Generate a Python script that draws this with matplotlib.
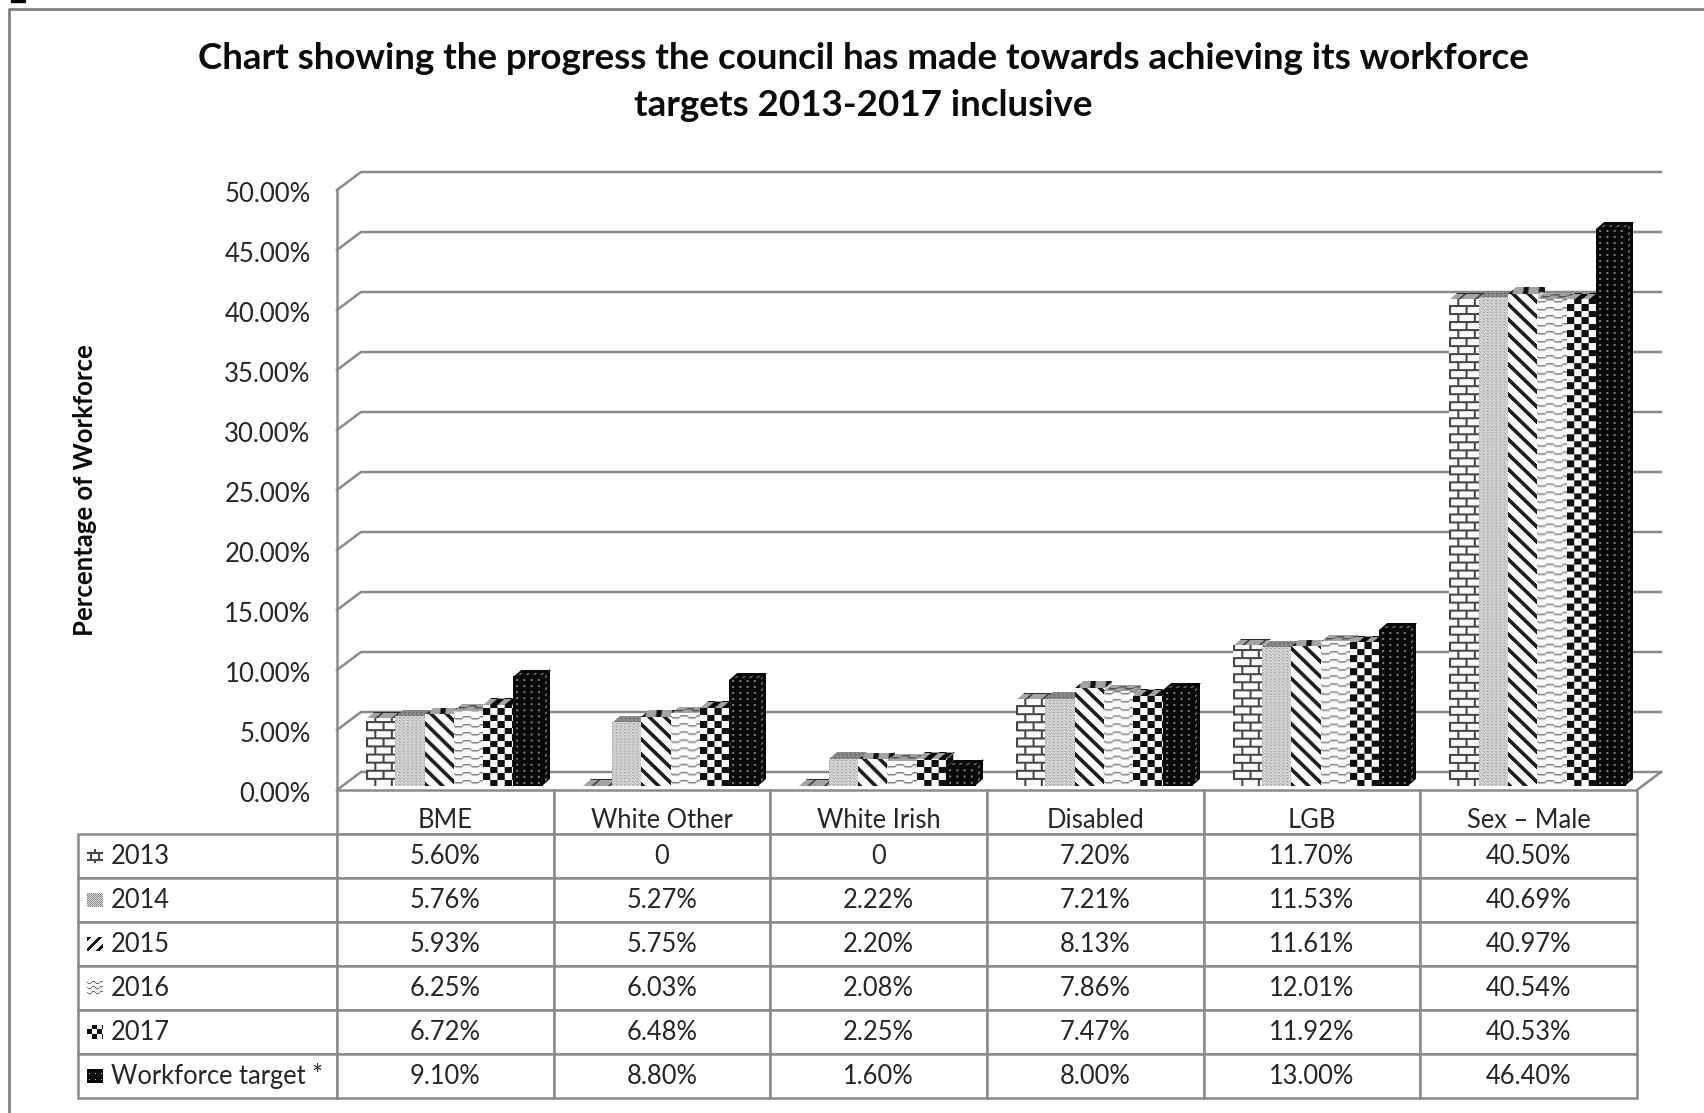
import numpy as np
import matplotlib
matplotlib.use('Agg')
import matplotlib.pyplot as plt
from matplotlib.patches import Rectangle
from matplotlib.table import Table
from matplotlib.transforms import Affine2D, ScaledTranslation

categories = ['BME', 'White Other', 'White Irish', 'Disabled', 'LGB', 'Sex – Male']
years = ['2013', '2014', '2015', '2016', '2017', 'Workforce target *']
v2013 = [5.60, 0, 0, 7.20, 11.70, 40.50]
v2014 = [5.76, 5.27, 2.22, 7.21, 11.53, 40.69]
v2015 = [5.93, 5.75, 2.20, 8.13, 11.61, 40.97]
v2016 = [6.25, 6.03, 2.08, 7.86, 12.01, 40.54]
v2017 = [6.72, 6.48, 2.25, 7.47, 11.92, 40.53]
target = [9.10, 8.80, 1.60, 8.00, 13.00, 46.40]
series = [v2013, v2014, v2015, v2016, v2017, target]
yticks = [0, 5, 10, 15, 20, 25, 30, 35, 40, 45, 50]

W, H = 1704, 1113
GRID = '#8a8a8a'
TXT = '#262626'
plt.rcParams['font.family'] = ['Lato', 'DejaVu Sans']

fig = plt.figure(figsize=(W / 100, H / 100), dpi=100)
# front plane of the 3d box, in pixels of the picture
L, R, TOP, BOT = 337, 1637, 190, 790
ax = fig.add_axes([L / W, 1 - BOT / H, (R - L) / W, (BOT - TOP) / H])
ax.set_xlim(0, 6)
ax.set_ylim(0, 50)
ax.set_autoscale_on(False)
sx = (R - L) / 6
sy = (BOT - TOP) / 50
DX, DY = 24 / sx, 18 / sy      # depth of the box
bar_dx, bar_dy = 8 / sx, 7 / sy  # depth of a bar
bar_w = 29.3 / sx
start = 29 / sx
base = 4 / sy


# fill patterns, one tile each, grey values 0-255
def brick():
    t = np.full((16, 16), 250.0)
    t[0:2, :] = 70
    t[8:10, :] = 70
    t[0:8, 0:2] = 70
    t[8:16, 8:10] = 70
    return t


def fine():
    return np.array([[205, 235, 170, 220], [150, 205, 215, 190], [215, 170, 235, 205]], float)


def diagonal():
    yy, xx = np.mgrid[0:15, 0:15]
    return np.where((xx - yy) % 15 < 5, 30.0, 250.0)


def wave():
    t = np.full((8, 16), 250.0)
    for x in range(16):
        r = int(round(3 + 1.5 * np.sin(2 * np.pi * x / 16)))
        t[r, x] = 130
        t[r + 1, x] = 190
    return t


def checker():
    yy, xx = np.mgrid[0:13, 0:14]
    return np.where(((xx // 7) + (yy * 2 // 13)) % 2 == 0, 15.0, 250.0)


def dark():
    t = np.full((12, 14), 8.0)
    t[2:4, 3:5] = 120
    t[8:10, 3:5] = 120
    t[2:4, 10:12] = 120
    t[8:10, 10:12] = 120
    return t


tiles = [brick(), fine(), diagonal(), wave(), checker(), dark()]


# the legend keys use a much smaller version of each pattern
def key_brick():
    t = np.full((14, 16), 250.0)
    t[3:5, :] = 70
    t[10:12, :] = 70
    t[5:10, 3:5] = 70
    t[5:10, 11:13] = 70
    t[0:3, 7:9] = 70
    t[12:14, 7:9] = 70
    return t


def key_fine():
    yy, xx = np.mgrid[0:14, 0:16]
    return np.where((xx + yy) % 2 == 0, 130.0, 225.0)


def key_diag():
    yy, xx = np.mgrid[0:14, 0:16]
    return np.where((xx + yy) % 11 < 4, 25.0, 250.0)


def key_wave():
    t = np.full((5, 8), 250.0)
    for x in range(8):
        t[int(round(2 + np.sin(2 * np.pi * x / 8))), x] = 110
    return t


def key_checker():
    yy, xx = np.mgrid[0:10, 0:10]
    return np.where(((xx // 5) + (yy // 5)) % 2 == 0, 10.0, 245.0)


def key_dark():
    t = np.full((6, 6), 10.0)
    t[2:3, 2:3] = 190
    return t


key_tiles = [key_brick(), key_fine(), key_diag(), key_wave(), key_checker(), key_dark()]


def texture(tile, w_px, h_px):
    w_px, h_px = max(int(round(w_px)), 1), max(int(round(h_px)), 1)
    ny = h_px // tile.shape[0] + 1
    nx = w_px // tile.shape[1] + 1
    return np.tile(tile, (ny, nx))[-h_px:, :w_px]


def face(tile, x, y, ux, uy, vx, vy, w_px, h_px, trans, zorder):
    # image mapped on the parallelogram (x,y) + s*(ux,uy) + t*(vx,vy)
    arr = texture(tile, w_px, h_px)
    im = ax.imshow(arr, extent=(0, 1, 0, 1), aspect='auto', cmap='gray', vmin=0, vmax=255,
                   interpolation='bilinear', zorder=zorder)
    im.set_transform(Affine2D.from_values(ux, uy, vx, vy, x, y) + trans)
    im.set_clip_on(False)
    return im


# box walls
ax.set_yticks(yticks)
ax.set_yticklabels(['%.2f%%' % v for v in yticks], fontsize=18.5, color=TXT)
ax.set_xticks([])
ax.tick_params(axis='y', length=0, pad=19)
for lbl in ax.get_yticklabels():
    lbl.set_transform(lbl.get_transform() + ScaledTranslation(0, -0.02, fig.dpi_scale_trans))
for s in ['top', 'right', 'bottom']:
    ax.spines[s].set_visible(False)
ax.spines['left'].set_color(GRID)
ax.spines['left'].set_linewidth(1.8)
ax.patch.set_visible(False)
for v in yticks:
    ax.plot([0, DX, 6 + DX], [v, v + DY, v + DY], color=GRID, lw=1.8, clip_on=False, zorder=1,
            solid_joinstyle='miter')
ax.plot([6, 6 + DX], [0, DY], color=GRID, lw=1.8, clip_on=False, zorder=1)

# bars, left to right so each one covers the side of the one before
z = 3
for i, vals in enumerate(series):
    x = np.arange(6) + start + i * bar_w
    bars = ax.bar(x, vals, bar_w, bottom=base, align='edge', facecolor='none', edgecolor='none', zorder=2)
    for b in bars:
        x0, y0, w, h = b.get_x(), b.get_y(), b.get_width(), b.get_height()
        depth_top = tiles[i] * 0.65 if i < 5 else tiles[i]
        side = tiles[i] * 0.8 if i < 5 else tiles[i]
        if h > 0:
            face(side, x0 + w, y0, bar_dx, bar_dy, 0, h, 8, h * sy, ax.transData, z)
        face(depth_top, x0, y0 + h, w, 0, bar_dx, bar_dy, w * sx, 7, ax.transData, z)
        if h > 0:
            face(tiles[i], x0, y0, w, 0, 0, h, w * sx, h * sy, ax.transData, z + 0.1)
    z += 1

# data table under the chart
left_w = (L - 78) / (R - L)
col_w = 1 / 6
n = len(years) + 1
row_h = 308 / (BOT - TOP) / n
tb = Table(ax, bbox=[-left_w, -308 / (BOT - TOP), 1 + left_w, 308 / (BOT - TOP)])
for c, name in enumerate(categories):
    tb.add_cell(0, c + 1, col_w, row_h, edgecolor=GRID, facecolor='white')
    # header text sits a little low in its row
    ax.text(c + 0.5, -30 / sy, name, ha='center', va='center', fontsize=18.4, color=TXT, zorder=30)
for r, name in enumerate(years):
    cell = tb.add_cell(r + 1, 0, left_w, row_h, text=name, loc='left', edgecolor=GRID, facecolor='white')
    cell.PAD = 0.128
    for c, v in enumerate(series[r]):
        label = '0' if v == 0 else '%.2f%%' % v
        tb.add_cell(r + 1, c + 1, col_w, row_h, text=label, loc='center', edgecolor=GRID, facecolor='white')
tb.auto_set_font_size(False)
tb.set_fontsize(18.4)
for cell in tb.get_celld().values():
    cell.set_linewidth(1.8)
    cell.get_text().set_color(TXT)
ax.add_table(tb)

# small pattern keys in the first table column
to_axes = 1 / (R - L), 1 / (BOT - TOP)
for r in range(len(years)):
    key_x = (87 - L) * to_axes[0]
    key_y = -((r + 1.5) * 44 + 7) * to_axes[1]
    face(key_tiles[r], key_x, key_y, 16 * to_axes[0], 0, 0, 14 * to_axes[1], 16, 14, ax.transAxes, 20)

# titles
fig.text(863 / W, 1 - 82 / H, 'Chart showing the progress the council has made towards achieving its workforce\n'
         'targets 2013-2017 inclusive', ha='center', va='center', fontsize=26.5, fontweight='bold',
         color='#0a0a0a', linespacing=1.55)
fig.text(85 / W, 1 - 490 / H, 'Percentage of Workforce', rotation=90, ha='center', va='center',
         fontsize=18.5, fontweight='bold', color='#0a0a0a')

# outer frame, only left and top are in the crop
fig.add_artist(plt.Line2D([9 / W, 9 / W, 1], [0, 1 - 9 / H, 1 - 9 / H], color='#808080', lw=2))
fig.add_artist(Rectangle((11 / W, 1 - 2 / H), 14 / W, 2 / H, color='black', transform=fig.transFigure))

fig.savefig('out.png', dpi=100)
